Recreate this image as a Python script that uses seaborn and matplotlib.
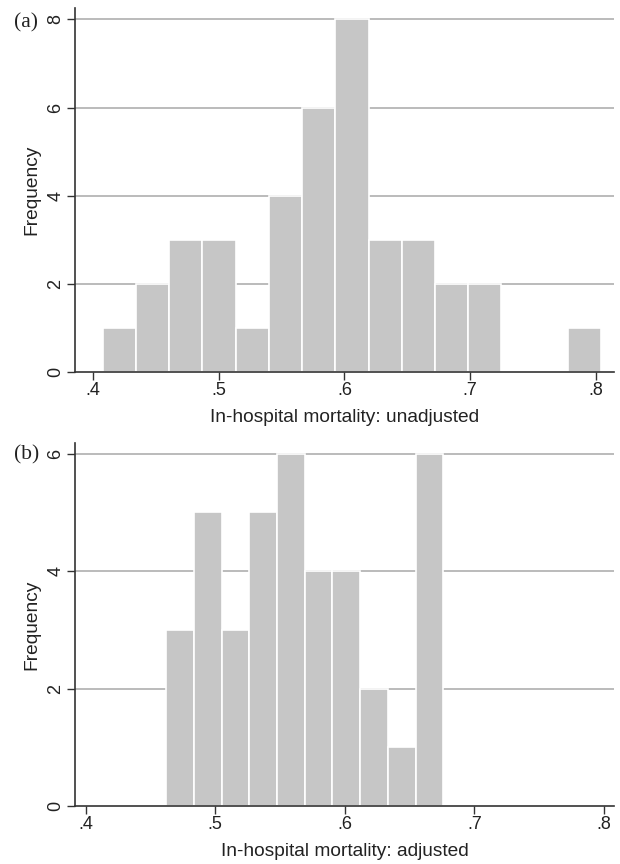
import numpy as np
import pandas as pd
import matplotlib
matplotlib.use("Agg")
import matplotlib.pyplot as plt
import seaborn as sns

# (a) unadjusted: 15 bins, 0.4077 .. 0.8042
edges_a = np.linspace(0.4077, 0.8042, 16)
counts_a = [1, 2, 3, 3, 1, 4, 6, 8, 3, 3, 2, 2, 0, 0, 1]

# (b) adjusted: 10 bins, 0.462 .. 0.676
edges_b = np.linspace(0.462, 0.676, 11)
counts_b = [3, 5, 3, 5, 6, 4, 4, 2, 1, 6]

xticks = [0.4, 0.5, 0.6, 0.7, 0.8]
xticklabels = [".4", ".5", ".6", ".7", ".8"]

sns.set_theme(style="white")
plt.rcParams['font.family'] = ['Liberation Sans', 'DejaVu Sans']

fig = plt.figure(figsize=(6.2, 8.64), dpi=100)
ax_a = fig.add_axes([0.121, 0.5694, 0.869, 0.4213])
ax_b = fig.add_axes([0.121, 0.0671, 0.869, 0.4202])

panels = [
    (ax_a, edges_a, counts_a, (0.3857, 0.8143), (0, 8.26), [0, 2, 4, 6, 8],
     "In-hospital mortality: unadjusted", "(a)", 13),
    (ax_b, edges_b, counts_b, (0.3917, 0.8077), (0, 6.18), [0, 2, 4, 6],
     "In-hospital mortality: adjusted", "(b)", 445),
]

for ax, edges, counts, xlim, ylim, yticks, xlabel, tag, tag_y in panels:
    df = pd.DataFrame({"mort": (edges[:-1] + edges[1:]) / 2, "n": counts})
    sns.histplot(data=df, x="mort", weights="n", bins=list(edges), ax=ax,
                 color="#c6c6c6", alpha=1, edgecolor="white", linewidth=1.2,
                 zorder=2)
    for yv in yticks[1:]:
        ax.axhline(yv, color="#a8a8a8", lw=1.1, zorder=1)
    ax.set_xlim(*xlim)
    ax.set_ylim(*ylim)
    ax.set_xticks(xticks)
    ax.set_xticklabels(xticklabels)
    ax.set_yticks(yticks)
    ax.set_yticklabels([str(v) for v in yticks], rotation=90, va="center")
    ax.tick_params(axis="both", length=5.5, width=1, color="#333333",
                   labelsize=13, labelcolor="#222222", pad=2, direction="out")
    ax.tick_params(axis="y", left=True)
    ax.tick_params(axis="x", bottom=True)
    for side in ["top", "right"]:
        ax.spines[side].set_visible(False)
    for side in ["left", "bottom"]:
        ax.spines[side].set_color("#333333")
        ax.spines[side].set_linewidth(1.2)
        ax.spines[side].set_zorder(3)
    ax.set_xlabel(xlabel, fontsize=13.8, color="#222222", labelpad=7)
    ax.set_ylabel("Frequency", fontsize=13.8, color="#222222", labelpad=5)
    fig.text(14 / 620, 1 - tag_y / 864, tag, fontsize=15.5,
             family="Liberation Serif", va="top", ha="left", color="#222222")

fig.savefig("out.png", dpi=100)
